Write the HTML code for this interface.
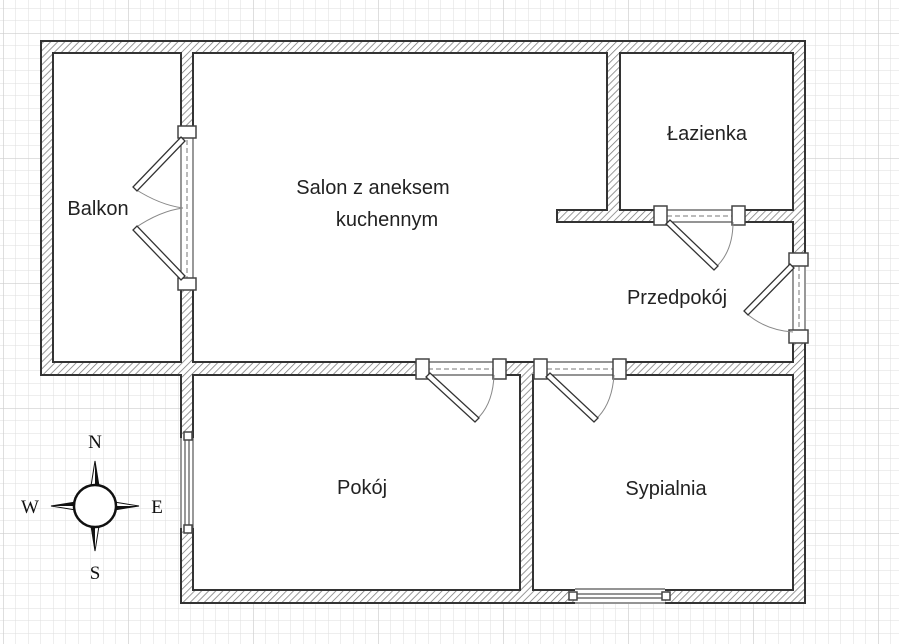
<!DOCTYPE html>
<html><head><meta charset="utf-8"><style>html,body{margin:0;padding:0;background:#fff}svg{display:block}</style></head>
<body>
<svg width="899" height="644" viewBox="0 0 899 644" xmlns="http://www.w3.org/2000/svg">
<defs>
<pattern id="g" x="3" y="8" width="12.5" height="12.5" patternUnits="userSpaceOnUse">
<path d="M0 0H12.5M0 0V12.5" stroke="#dedede" stroke-width="1" fill="none"/>
</pattern>
<pattern id="G" x="3" y="33" width="125" height="125" patternUnits="userSpaceOnUse">
<path d="M0 0H125M0 0V125" stroke="#cdcdcd" stroke-width="1.3" fill="none"/>
</pattern>
<pattern id="h" width="5" height="5" patternUnits="userSpaceOnUse" patternTransform="rotate(45)">
<rect width="5" height="5" fill="#fff"/>
<line x1="0" y1="0" x2="0" y2="5" stroke="#777" stroke-width="1.5"/>
</pattern>
</defs>
<rect width="899" height="644" fill="url(#g)"/>
<rect width="899" height="644" fill="url(#G)"/>

<path d="M41 41H805V603H181V375H41Z" fill="url(#h)" stroke="#333" stroke-width="2"/>
<g fill="#fff" stroke="#333" stroke-width="2">
<rect x="53" y="53" width="128" height="309"/>
<path d="M193 53H607V210H557V222H793V362H193Z"/>
<rect x="620" y="53" width="173" height="157"/>
<rect x="193" y="375" width="327" height="215"/>
<rect x="533" y="375" width="260" height="215"/>
</g>

<g fill="#fff" stroke="none">
<rect x="180" y="136" width="14" height="144"/>
<rect x="427" y="361" width="70" height="15"/>
<rect x="546" y="361" width="70" height="15"/>
<rect x="666" y="209" width="68" height="14"/>
<rect x="792" y="264" width="14" height="68"/>
<rect x="180" y="438" width="14" height="90"/>
<rect x="575" y="588" width="90" height="16"/>
</g>
<g stroke="#555" stroke-width="1.2" fill="none">
<path d="M181 136V280M193 136V280"/>
<path d="M427 362H497M427 375H497M546 362H616M546 375H616"/>
<path d="M666 210H734M666 222H734"/>
<path d="M793 264V332M805 264V332"/>
<path d="M181 438V528M193 438V528M185 438V528M189 438V528"/>
<path d="M575 589H665M575 603H665M575 594H665M575 598H665"/>
</g>
<g stroke="#777" stroke-width="1" stroke-dasharray="5,3" fill="none">
<path d="M187 140V278"/>
<path d="M428 369H496M547 369H615"/>
<path d="M667 216H733"/>
<path d="M799 266V330"/>
</g>
<g fill="#fff" stroke="#444" stroke-width="1.5">
<rect x="178" y="126" width="18" height="12"/>
<rect x="178" y="278" width="18" height="12"/>
<rect x="416" y="359" width="13" height="20"/>
<rect x="493" y="359" width="13" height="20"/>
<rect x="534" y="359" width="13" height="20"/>
<rect x="613" y="359" width="13" height="20"/>
<rect x="654" y="206" width="13" height="19"/>
<rect x="732" y="206" width="13" height="19"/>
<rect x="789" y="253" width="19" height="13"/>
<rect x="789" y="330" width="19" height="13"/>
<rect x="184" y="432" width="8" height="8"/>
<rect x="184" y="525" width="8" height="8"/>
<rect x="569" y="592" width="8" height="8"/>
<rect x="662" y="592" width="8" height="8"/>
</g>
<g stroke="#888" stroke-width="1" fill="none">
<path d="M135 189Q160 205 183 208"/>
<path d="M135 228Q160 211 183 208"/>
<path d="M476 420Q493 405 494 375"/>
<path d="M595 420Q612 405 614 375"/>
<path d="M715 268Q733 252 733 222"/>
<path d="M746 313Q765 330 793 332"/>
</g>
<g fill="#fff" stroke="#333" stroke-width="1.3">
<polygon points="181,137 185,141 137,191 133,187"/>
<polygon points="181,280 185,276 137,226 133,230"/>
<polygon points="426,377 430,373 479,418 475,422"/>
<polygon points="546,377 550,373 598,418 594,422"/>
<polygon points="666,224 670,220 718,266 714,270"/>
<polygon points="790,264 794,268 748,315 744,311"/>
</g>

<g font-family="'Liberation Sans',sans-serif" font-size="20" fill="#222" text-anchor="middle">
<text x="98" y="215">Balkon</text>
<text x="373" y="194">Salon z aneksem</text>
<text x="387" y="226">kuchennym</text>
<text x="707" y="140">Łazienka</text>
<text x="677" y="304">Przedpokój</text>
<text x="362" y="494">Pokój</text>
<text x="666" y="495">Sypialnia</text>
</g>

<g>
<polygon points="95,461 91,486 99,486" fill="#fff" stroke="#111" stroke-width="1"/>
<polygon points="95,461 95,486 99,486" fill="#111"/>
<polygon points="95,551 91,526 99,526" fill="#fff" stroke="#111" stroke-width="1"/>
<polygon points="95,551 91,526 95,526" fill="#111"/>
<polygon points="51,506 76,502 76,510" fill="#fff" stroke="#111" stroke-width="1"/>
<polygon points="51,506 76,502 76,506" fill="#111"/>
<polygon points="139,506 114,502 114,510" fill="#fff" stroke="#111" stroke-width="1"/>
<polygon points="139,506 114,506 114,510" fill="#111"/>
<circle cx="95" cy="506" r="21" fill="#fff" stroke="#111" stroke-width="2.5"/>
<g font-family="'Liberation Serif',serif" font-size="19" fill="#111" text-anchor="middle">
<text x="95" y="448">N</text>
<text x="95" y="579">S</text>
<text x="30" y="513">W</text>
<text x="157" y="513">E</text>
</g>
</g>
</svg>
</body></html>
